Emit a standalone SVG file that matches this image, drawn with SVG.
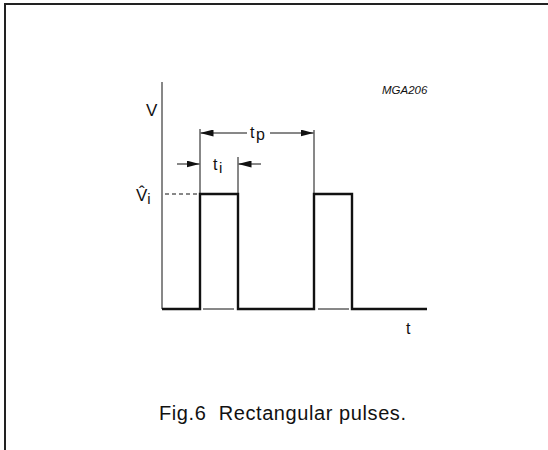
<svg xmlns="http://www.w3.org/2000/svg" width="548" height="450" viewBox="0 0 548 450">
<style>
.txt{font-family:"Liberation Sans",Arial,sans-serif;fill:#111}
.thin{stroke:#111;stroke-width:1;fill:none}
.wave{stroke:#111;stroke-width:2.4;fill:none;stroke-linejoin:miter}
</style>
<defs>
<marker id="ah" markerWidth="13" markerHeight="7" refX="13" refY="3.5" orient="auto" markerUnits="userSpaceOnUse">
<path d="M0,0 L13,3.5 L0,7 Z" fill="#111"/>
</marker>
</defs>
<rect width="548" height="450" fill="#fff"/>
<g id="frame">
<path d="M5,450 V4 H548" stroke="#222" stroke-width="2" fill="none"/>
</g>
<g id="axes">
<line x1="162" y1="82" x2="162" y2="309" class="thin"/>
<text class="txt" x="146" y="116" font-size="17">V</text>
<text class="txt" x="406" y="334" font-size="16">t</text>
</g>
<g id="waveform">
<path class="wave" d="M162,309 H200 V194 H238 V309 H314 V194 H352 V309 H427"/>
<line x1="203" y1="309" x2="234" y2="309" class="thin"/>
<line x1="318" y1="309" x2="349" y2="309" class="thin"/>
</g>
<g id="connectors">
<line x1="165" y1="194" x2="199" y2="194" class="thin" stroke-dasharray="4,3"/>
<line x1="200" y1="129" x2="200" y2="194" class="thin"/>
<line x1="238" y1="157" x2="238" y2="194" class="thin"/>
<line x1="314" y1="130" x2="314" y2="194" class="thin"/>
<line x1="247" y1="133" x2="200.5" y2="133" class="thin" marker-end="url(#ah)"/>
<line x1="270" y1="133" x2="313.5" y2="133" class="thin" marker-end="url(#ah)"/>
<line x1="177" y1="164" x2="199.5" y2="164" class="thin" marker-end="url(#ah)"/>
<line x1="261" y1="164" x2="238.5" y2="164" class="thin" marker-end="url(#ah)"/>
</g>
<g id="labels">
<text class="txt" x="250" y="138" font-size="16">t<tspan dx="1.5" dy="2" font-size="16">p</tspan></text>
<text class="txt" x="213" y="170" font-size="16">t<tspan dx="1.5" dy="3" font-size="15">i</tspan></text>
<text class="txt" x="136" y="201" font-size="17">V&#770;<tspan dy="3" font-size="15">i</tspan></text>
<text class="txt" x="382" y="94" font-size="11.5" font-style="italic">MGA206</text>
</g>
<g id="caption">
<text class="txt" x="159" y="420" font-size="20" style="white-space:pre" xml:space="preserve" textLength="247" lengthAdjust="spacing">Fig.6  Rectangular pulses.</text>
</g>
</svg>
